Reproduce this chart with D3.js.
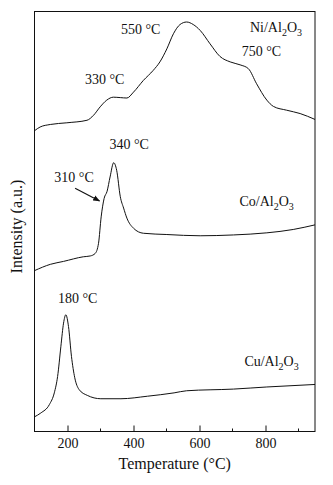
<!DOCTYPE html>
<html>
<head>
<meta charset="utf-8">
<script src="https://cdn.jsdelivr.net/npm/d3@7"></script>
<style>
  body { margin: 0; background: #fff; }
  svg text { font-family: "Liberation Serif", "Times New Roman", serif; fill: #111; }
</style>
</head>
<body>
<div id="chart"></div>
<script>
// temperature (°C) and intensity (a.u., 0-100 over the plot height)
const niTemp = [100, 117, 148, 198, 259, 279, 299, 319, 339, 360, 380, 400, 430, 460, 480, 501, 521, 541, 561, 581, 602, 632, 662, 693, 723, 748, 773, 804, 824, 864, 905, 950];
const niInt  = [71.6, 72.5, 73.1, 73.5, 74.1, 75.3, 77.3, 78.9, 79.6, 79.5, 79.4, 80.8, 83.6, 86.0, 88.0, 91.1, 94.7, 96.9, 97.5, 96.9, 95.5, 92.3, 89.3, 88.0, 87.3, 86.4, 82.8, 78.9, 77.4, 76.5, 75.7, 74.3];

const coTemp = [100, 148, 188, 248, 269, 284, 294, 302, 311, 320, 329, 340, 349, 360, 370, 380, 400, 430, 501, 602, 703, 804, 884, 950];
const coInt  = [38.3, 39.8, 40.5, 41.6, 41.8, 42.4, 44.8, 51.1, 55.5, 57.2, 60.6, 64.0, 62.2, 55.9, 53.2, 50.8, 48.4, 47.2, 46.9, 46.6, 46.8, 47.3, 48.1, 49.2];

const cuTemp = [100, 119, 145, 160, 170, 180, 188, 195, 203, 212, 222, 235, 260, 301, 362, 442, 523, 561, 703, 804, 950];
const cuInt  = [3.5, 4.4, 6.4, 9.2, 13.1, 20.3, 25.8, 27.8, 25.0, 17.9, 12.8, 10.0, 8.6, 7.8, 7.8, 8.4, 9.2, 9.7, 10.1, 10.6, 11.2];

const xTicks = [200, 400, 600, 800];
const xMinorTicks = [300, 500, 700, 900];

// annotation labels: text, temperature, intensity
const labelText = ['550 °C', '750 °C', '330 °C', '340 °C', '310 °C', '180 °C'];
const labelTemp = [362, 728, 253, 327, 160, 171];
const labelInt  = [94.7, 89.3, 82.7, 67.2, 59.4, 30.6];

const sampleNames = ['Ni', 'Co', 'Cu'];
const sampleTemp = [753, 721, 736];
const sampleInt  = [95.1, 53.6, 15.6];

// arrow pointing at the 310 °C shoulder
const arrowTemp = [223, 297];
const arrowInt  = [57.9, 54.9];

const W = 333, H = 485;
const margin = { top: 11.5, right: 18, bottom: 53.5, left: 34.5 };
const width = W - margin.left - margin.right;
const height = H - margin.top - margin.bottom;

const svg = d3.select('#chart').append('svg')
  .attr('width', W)
  .attr('height', H);

const g = svg.append('g')
  .attr('transform', `translate(${margin.left},${margin.top})`);

const x = d3.scaleLinear().domain([100, 950]).range([0, width]);
const y = d3.scaleLinear().domain([0, 100]).range([height, 0]);

// arrow marker
svg.append('defs').append('marker')
  .attr('id', 'arrowhead')
  .attr('viewBox', '0 0 10 10')
  .attr('refX', 9).attr('refY', 5)
  .attr('markerWidth', 7).attr('markerHeight', 7)
  .attr('markerUnits', 'userSpaceOnUse')
  .attr('orient', 'auto')
  .append('path')
  .attr('d', 'M0,1 L10,5 L0,9 Z')
  .attr('fill', '#111');

// curves
const line = d3.line()
  .x(d => x(d[0]))
  .y(d => y(d[1]))
  .curve(d3.curveMonotoneX);

[[niTemp, niInt], [coTemp, coInt], [cuTemp, cuInt]].forEach(([t, v]) => {
  g.append('path')
    .datum(t.map((d, i) => [d, v[i]]))
    .attr('d', line)
    .attr('fill', 'none')
    .attr('stroke', '#111')
    .attr('stroke-width', 1);
});

// frame
g.append('rect')
  .attr('width', width)
  .attr('height', height)
  .attr('fill', 'none')
  .attr('stroke', '#111')
  .attr('stroke-width', 1);

// bottom axis, ticks pointing inward
const xAxis = g.append('g')
  .attr('transform', `translate(0,${height})`)
  .call(d3.axisBottom(x).tickValues(xTicks).tickSizeInner(-6).tickSizeOuter(0).tickPadding(7));
xAxis.select('.domain').remove();
xAxis.selectAll('text')
  .style('font-size', '14px')
  .attr('fill', '#111');
xAxis.selectAll('line').attr('stroke', '#111');

g.append('g')
  .attr('transform', `translate(0,${height})`)
  .selectAll('line')
  .data(xMinorTicks)
  .enter()
  .append('line')
  .attr('x1', d => x(d)).attr('x2', d => x(d))
  .attr('y1', 0).attr('y2', -3)
  .attr('stroke', '#111');

// axis titles
svg.append('text')
  .attr('x', margin.left + width / 2)
  .attr('y', 469)
  .attr('text-anchor', 'middle')
  .style('font-size', '16px')
  .text('Temperature (°C)');

svg.append('text')
  .attr('transform', `translate(22,${margin.top + height / 2 + 5}) rotate(-90)`)
  .attr('text-anchor', 'middle')
  .style('font-size', '16px')
  .text('Intensity (a.u.)');

// peak temperature labels
g.selectAll('.peak-label')
  .data(labelText)
  .enter()
  .append('text')
  .attr('class', 'peak-label')
  .attr('x', (d, i) => x(labelTemp[i]))
  .attr('y', (d, i) => y(labelInt[i]))
  .style('font-size', '14px')
  .text(d => d);

// sample names with subscripts
sampleNames.forEach((name, i) => {
  const t = g.append('text')
    .attr('x', x(sampleTemp[i]))
    .attr('y', y(sampleInt[i]))
    .style('font-size', '14px');
  t.append('tspan').text(name + '/Al');
  t.append('tspan').attr('dy', 4).style('font-size', '10px').text('2');
  t.append('tspan').attr('dy', -4).text('O');
  t.append('tspan').attr('dy', 4).style('font-size', '10px').text('3');
});

g.append('line')
  .attr('x1', x(arrowTemp[0])).attr('y1', y(arrowInt[0]))
  .attr('x2', x(arrowTemp[1])).attr('y2', y(arrowInt[1]))
  .attr('stroke', '#111')
  .attr('stroke-width', 1.2)
  .attr('marker-end', 'url(#arrowhead)');
</script>
</body>
</html>
